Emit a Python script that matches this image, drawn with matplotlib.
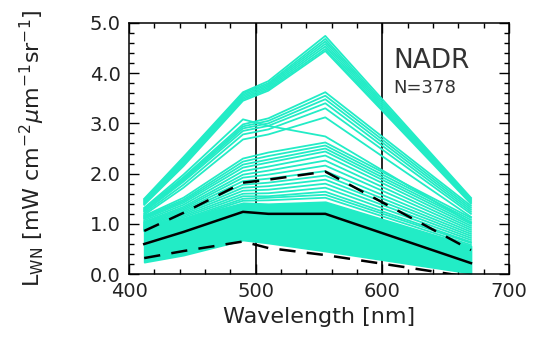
import numpy as np
import matplotlib
matplotlib.use("Agg")
from matplotlib import pyplot as plt
from matplotlib.ticker import MultipleLocator, FormatStrFormatter

# SeaWiFS bands
wavelength = [412, 443, 490, 510, 555, 670]

# upper group of spectra
group_top = [
    [1.50, 2.33, 3.62, 3.84, 4.74, 1.52],
    [1.48, 2.30, 3.60, 3.80, 4.68, 1.50],
    [1.46, 2.27, 3.57, 3.77, 4.63, 1.48],
    [1.44, 2.24, 3.54, 3.74, 4.58, 1.46],
    [1.42, 2.21, 3.51, 3.71, 4.53, 1.44],
    [1.40, 2.18, 3.48, 3.68, 4.48, 1.42],
    [1.38, 2.15, 3.45, 3.65, 4.44, 1.40],
]

# second group
group_mid = [
    [1.32, 1.98, 3.08, 2.95, 2.74, 1.02],
    [1.30, 1.93, 2.98, 3.10, 3.62, 1.36],
    [1.28, 1.90, 2.94, 3.05, 3.55, 1.32],
    [1.26, 1.87, 2.90, 3.00, 3.48, 1.28],
    [1.24, 1.84, 2.85, 2.95, 3.40, 1.24],
    [1.21, 1.78, 2.78, 2.88, 3.30, 1.20],
    [1.18, 1.72, 2.68, 2.78, 3.12, 1.14],
]

# scattered spectra above the dense core
group_low = [
    [1.16, 1.52, 2.30, 2.42, 2.62, 1.12],
    [1.14, 1.48, 2.24, 2.35, 2.56, 1.08],
    [1.12, 1.45, 2.18, 2.28, 2.50, 1.04],
    [1.10, 1.42, 2.12, 2.22, 2.44, 1.00],
    [1.07, 1.38, 2.05, 2.14, 2.36, 0.96],
    [1.04, 1.34, 1.98, 2.06, 2.26, 0.92],
    [1.02, 1.31, 1.92, 1.98, 2.16, 0.88],
    [1.00, 1.28, 1.85, 1.90, 2.05, 0.84],
    [0.98, 1.25, 1.78, 1.82, 1.96, 0.80],
    [0.96, 1.22, 1.72, 1.75, 1.88, 0.76],
    [0.94, 1.19, 1.66, 1.68, 1.80, 0.72],
    [0.92, 1.16, 1.60, 1.61, 1.72, 0.68],
    [0.90, 1.13, 1.55, 1.55, 1.64, 0.64],
    [0.88, 1.10, 1.50, 1.52, 1.58, 0.62],
    [0.86, 1.08, 1.46, 1.47, 1.52, 0.58],
]

# dense core of the spectra (envelope)
core_lower = [0.24, 0.38, 0.68, 0.62, 0.46, 0.02]
core_upper = [0.98, 1.10, 1.42, 1.40, 1.44, 0.56]

# mean and mean +/- std
mean_spec = [0.60, 0.84, 1.24, 1.20, 1.20, 0.22]
upper_std = [0.86, 1.22, 1.82, 1.88, 2.04, 0.48]
lower_std = [0.32, 0.46, 0.65, 0.52, 0.38, -0.06]

cyan = "#22ECC6"

fig = plt.figure(figsize=(5.49, 3.41), dpi=100)
ax = fig.add_axes([0.235, 0.196, 0.692, 0.737])

ax.axvline(500, color="black", lw=1.2, zorder=1)
ax.axvline(600, color="black", lw=1.2, zorder=1)

ax.fill_between(wavelength, core_lower, core_upper, color=cyan, lw=1.3, ec=cyan, zorder=2)
for spec in group_top + group_mid + group_low:
    ax.plot(wavelength, spec, color=cyan, lw=1.3, zorder=3)

ax.plot(wavelength, mean_spec, color="black", lw=1.8, zorder=4)
ax.plot(wavelength, upper_std, color="black", lw=1.8, dashes=(6.5, 4.5), zorder=4)
ax.plot(wavelength, lower_std, color="black", lw=1.8, dashes=(6.5, 4.5), zorder=4)

ax.set_xlim(400, 700)
ax.set_ylim(0, 5)
ax.xaxis.set_major_locator(MultipleLocator(100))
ax.xaxis.set_minor_locator(MultipleLocator(20))
ax.yaxis.set_major_locator(MultipleLocator(1))
ax.yaxis.set_minor_locator(MultipleLocator(0.2))
ax.yaxis.set_major_formatter(FormatStrFormatter("%.1f"))

ax.tick_params(which="both", direction="in", top=True, right=True,
               width=1.0, colors="black", labelcolor="#222222", labelsize=14)
ax.tick_params(which="major", length=7, pad=6)
ax.tick_params(which="minor", length=3.5)
for s in ax.spines.values():
    s.set_linewidth(1.1)

ax.set_xlabel("Wavelength [nm]", fontsize=16, color="#222222")
ax.xaxis.set_label_coords(0.5, -0.13)
ax.set_ylabel(r"L$_{\rm WN}$ [mW cm$^{-2}\mu$m$^{-1}$sr$^{-1}$]", fontsize=16, color="#222222")
ax.yaxis.set_label_coords(-0.215, 0.5)

ax.text(0.695, 0.82, "NADR", transform=ax.transAxes, fontsize=19, color="#333333")
ax.text(0.695, 0.72, "N=378", transform=ax.transAxes, fontsize=13, color="#333333")

fig.savefig("out.png", dpi=100)
